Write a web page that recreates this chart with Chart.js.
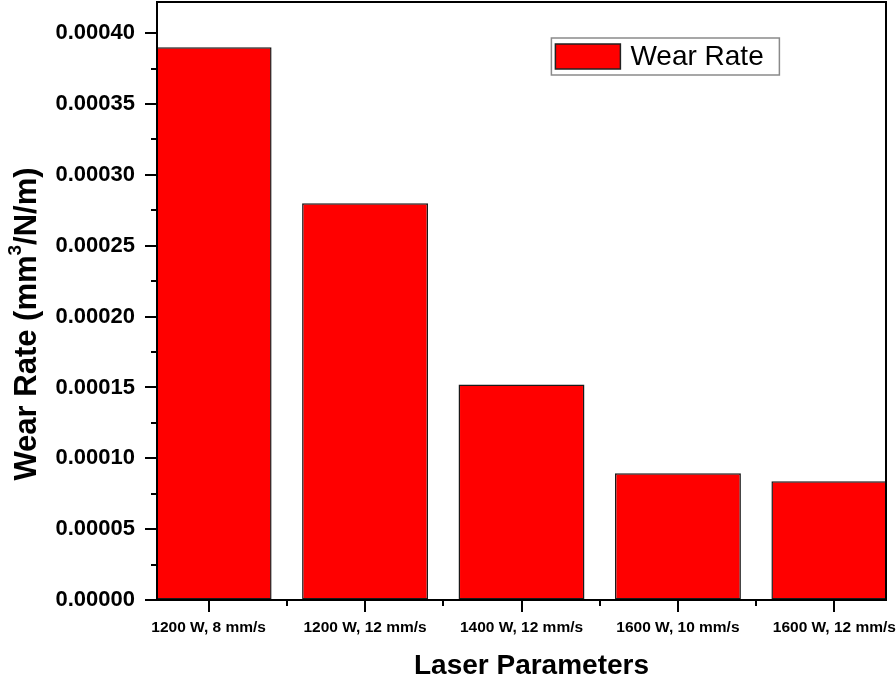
<!DOCTYPE html>
<html>
<head>
<meta charset="utf-8">
<script src="https://cdn.jsdelivr.net/npm/chart.js@4/dist/chart.umd.min.js"></script>
<style>
  html, body { margin: 0; padding: 0; background: #ffffff; }
  #wrap { width: 896px; height: 679px; position: relative; }
</style>
</head>
<body>
<div id="wrap"><canvas id="c" width="896" height="679"></canvas></div>
<script>
const categories = ["1200 W, 8 mm/s", "1200 W, 12 mm/s", "1400 W, 12 mm/s", "1600 W, 10 mm/s", "1600 W, 12 mm/s"];
const wearRate = [0.000390, 0.000280, 0.000152, 0.0000894, 0.0000838];
const seriesName = "Wear Rate";
const yMajorStep = 0.00005;
const yMinorStep = 0.000025;
const yRange = [0, 0.000422];
const xRange = [-0.33, 4.33];
const xTitle = "Laser Parameters";
const yTitleParts = ["Wear Rate (mm", "3", "/N/m)"];

const FONT = '"Liberation Sans", Arial, sans-serif';

const frameAndTicks = {
  id: 'frameAndTicks',
  afterDraw(chart) {
    const ctx = chart.ctx;
    const a = chart.chartArea;
    const xs = chart.scales.x, ys = chart.scales.y;
    ctx.save();
    ctx.strokeStyle = '#000';
    ctx.lineWidth = 2;
    ctx.strokeRect(a.left, a.top, a.right - a.left, a.bottom - a.top);
    ctx.beginPath();
    ys.ticks.forEach(t => {
      const major = Math.round(t.value / yMinorStep) % 2 === 0;
      const py = Math.round(ys.getPixelForValue(t.value));
      ctx.moveTo(a.left, py);
      ctx.lineTo(a.left - (major ? 12 : 6), py);
    });
    xs.ticks.forEach(t => {
      const major = Math.abs(t.value - Math.round(t.value)) < 1e-6;
      const px = Math.round(xs.getPixelForValue(t.value));
      ctx.moveTo(px, a.bottom);
      ctx.lineTo(px, a.bottom + (major ? 12 : 6));
    });
    ctx.stroke();

    // X axis title
    ctx.fillStyle = '#000';
    ctx.font = 'bold 28px ' + FONT;
    ctx.textAlign = 'center';
    ctx.textBaseline = 'middle';
    ctx.fillText(xTitle, (a.left + a.right) / 2 + 10, a.bottom + 66);

    // Y axis title with superscript
    const big = 'bold 31px ' + FONT;
    const small = 'bold 19px ' + FONT;
    ctx.font = big; const w1 = ctx.measureText(yTitleParts[0]).width; const w3 = ctx.measureText(yTitleParts[2]).width;
    ctx.font = small; const w2 = ctx.measureText(yTitleParts[1]).width;
    const total = w1 + w2 + w3;
    const cx = 27, cy = (a.top + a.bottom) / 2 + 23;
    ctx.translate(cx, cy);
    ctx.rotate(-Math.PI / 2);
    ctx.textAlign = 'left';
    let x0 = -total / 2;
    ctx.font = big; ctx.fillText(yTitleParts[0], x0, 0);
    ctx.font = small; ctx.fillText(yTitleParts[1], x0 + w1, -11);
    ctx.font = big; ctx.fillText(yTitleParts[2], x0 + w1 + w2, 0);
    ctx.restore();

    // Legend
    ctx.save();
    const lx = a.left + (a.right - a.left) * 0.541, ly = a.top + 36;
    const lw = 228, lh = 37;
    ctx.fillStyle = '#fff';
    ctx.fillRect(lx, ly, lw, lh);
    ctx.strokeStyle = '#8a8a8a';
    ctx.lineWidth = 1.5;
    ctx.strokeRect(lx, ly, lw, lh);
    ctx.fillStyle = '#ff0000';
    ctx.fillRect(lx + 4, ly + 6, 65, 25);
    ctx.strokeStyle = '#222';
    ctx.lineWidth = 1.5;
    ctx.strokeRect(lx + 4, ly + 6, 65, 25);
    ctx.fillStyle = '#000';
    ctx.font = '28px ' + FONT;
    ctx.textBaseline = 'middle';
    ctx.fillText(seriesName, lx + 79, ly + lh / 2 + 1);
    ctx.restore();
  }
};

new Chart(document.getElementById('c'), {
  type: 'bar',
  data: {
    datasets: [{
      label: seriesName,
      data: wearRate.map((v, i) => ({ x: i, y: v })),
      backgroundColor: '#ff0000',
      borderColor: '#1a1a1a',
      borderWidth: 1.5,
      borderSkipped: false,
      // bar sample size is taken from the half-step tick spacing, so 1.61 x half-step = 0.805 of a category
      barPercentage: 1.61,
      categoryPercentage: 1.0,
      clip: 0
    }]
  },
  options: {
    responsive: false,
    animation: false,
    devicePixelRatio: 1,
    layout: { padding: { left: 0, right: 10, top: 2, bottom: 0 } },
    plugins: { legend: { display: false }, tooltip: { enabled: false } },
    scales: {
      x: {
        type: 'linear',
        min: xRange[0], max: xRange[1],
        offset: false,
        border: { display: false },
        grid: { display: true, drawOnChartArea: false, color: 'rgba(0,0,0,0)', tickLength: 12 },
        ticks: {
          stepSize: 0.5, includeBounds: false, autoSkip: false, maxRotation: 0, minRotation: 0,
          padding: 6, color: '#000',
          font: { family: FONT, size: 15.5, weight: 'bold' },
          callback: (v) => {
            const i = Math.round(v);
            return Math.abs(v - i) < 1e-6 && i >= 0 && i < categories.length ? categories[i] : '';
          }
        },
        title: { display: false },
        afterFit: (s) => { s.height = 79; s.paddingLeft = 0; s.paddingRight = 0; }
      },
      y: {
        min: yRange[0], max: yRange[1],
        border: { display: false },
        grid: { display: true, drawOnChartArea: false, color: 'rgba(0,0,0,0)', tickLength: 12 },
        ticks: {
          stepSize: yMinorStep, includeBounds: false, autoSkip: false, padding: 10, color: '#000',
          font: { family: FONT, size: 22, weight: 'bold' },
          callback: (v) => Math.round(v / yMinorStep) % 2 === 0 ? v.toFixed(5) : ''
        },
        afterFit: (s) => { s.width = 157; s.paddingTop = 0; s.paddingBottom = 0; }
      }
    }
  },
  plugins: [frameAndTicks]
});
</script>
</body>
</html>
